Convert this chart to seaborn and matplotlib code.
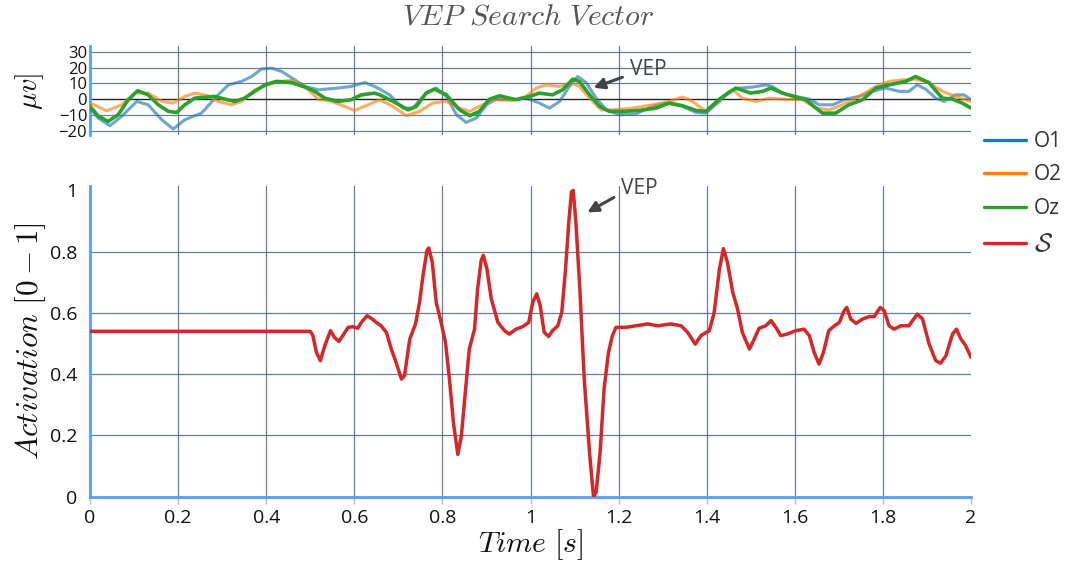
import matplotlib
matplotlib.use("Agg")
import matplotlib.pyplot as plt
import seaborn as sns
from matplotlib.lines import Line2D

sns.set_theme(style="white")
plt.rcParams["font.family"] = ["Open Sans", "DejaVu Sans"]
plt.rcParams["mathtext.fontset"] = "cm"
plt.rcParams["axes.unicode_minus"] = True

# ---- EEG channels (microvolts) ----
o1_t = [0.000, 0.019, 0.045, 0.072, 0.106, 0.132, 0.163, 0.189, 0.215, 0.253, 0.291, 0.314,
        0.344, 0.367, 0.389, 0.412, 0.435, 0.465, 0.488, 0.518, 0.563, 0.593, 0.624, 0.646,
        0.658, 0.680, 0.710, 0.733, 0.763, 0.786, 0.809, 0.832, 0.854, 0.877, 0.900, 0.922,
        0.960, 0.990, 1.020, 1.043, 1.066, 1.088, 1.107, 1.126, 1.149, 1.172, 1.202, 1.240,
        1.277, 1.308, 1.345, 1.376, 1.398, 1.429, 1.451, 1.474, 1.504, 1.534, 1.549, 1.572,
        1.602, 1.633, 1.655, 1.686, 1.716, 1.746, 1.776, 1.806, 1.837, 1.859, 1.878, 1.897,
        1.920, 1.939, 1.965, 1.984, 2.000]
o1_v = [-5.7, -12.0, -16.9, -10.9, -1.5, -3.6, -13.1, -19.0, -13.1, -8.9, 2.7, 9.0,
        11.2, 14.3, 19.0, 19.6, 17.5, 12.2, 8.0, 5.9, 7.0, 8.0, 10.5, 8.0,
        6.3, 2.7, -5.7, -5.7, 3.8, 7.0, 1.7, -9.9, -14.8, -12.0, -3.6, 0.0,
        -0.4, 0.6, -2.5, -5.7, -1.5, 8.0, 14.3, 10.5, 0.6, -6.8, -9.9, -9.3,
        -4.6, -2.5, -4.6, -8.5, -8.9, -1.5, 4.9, 7.0, 7.6, 9.0, 8.0, 3.8,
        1.7, 0.0, -3.6, -3.6, 0.0, 1.7, 4.9, 7.0, 4.9, 4.9, 9.0, 6.3,
        0.6, -1.5, 2.7, 2.7, -0.4]

o2_t = [0.000, 0.038, 0.072, 0.102, 0.132, 0.163, 0.189, 0.215, 0.238, 0.268, 0.291, 0.321,
        0.344, 0.374, 0.404, 0.427, 0.457, 0.488, 0.518, 0.548, 0.578, 0.601, 0.631, 0.658,
        0.688, 0.718, 0.748, 0.778, 0.809, 0.839, 0.862, 0.884, 0.915, 0.960, 0.990, 1.013,
        1.035, 1.066, 1.092, 1.111, 1.134, 1.160, 1.187, 1.232, 1.277, 1.315, 1.345, 1.368,
        1.398, 1.429, 1.459, 1.481, 1.512, 1.542, 1.572, 1.617, 1.648, 1.678, 1.708, 1.746,
        1.784, 1.814, 1.844, 1.874, 1.904, 1.935, 1.965, 2.000]
o2_v = [-2.5, -7.4, -3.6, 3.8, 3.8, -1.5, -2.5, 1.7, 3.8, 2.1, -1.5, -3.6,
        -1.5, 5.9, 9.0, 11.2, 11.8, 8.0, 0.0, -1.5, -4.6, -7.2, -3.6, -0.4,
        -4.6, -10.5, -7.8, -2.5, -1.5, -5.7, -7.8, -4.6, -0.4, -0.8, 1.7, 7.0,
        9.0, 8.0, 10.1, 8.0, 0.6, -6.8, -6.8, -5.7, -3.6, -1.5, 1.3, -1.5,
        -7.8, -0.4, 5.9, 0.6, -1.5, 0.6, 0.0, -0.4, -5.7, -6.8, -3.6, 1.7,
        8.0, 11.2, 12.2, 12.6, 10.5, 4.9, 1.7, -1.5]

oz_t = [0.000, 0.019, 0.041, 0.064, 0.087, 0.108, 0.132, 0.155, 0.178, 0.197, 0.215, 0.238,
        0.268, 0.283, 0.306, 0.329, 0.351, 0.374, 0.397, 0.423, 0.457, 0.488, 0.510, 0.533,
        0.563, 0.593, 0.616, 0.646, 0.658, 0.688, 0.722, 0.741, 0.763, 0.782, 0.809, 0.839,
        0.862, 0.884, 0.907, 0.930, 0.967, 0.998, 1.020, 1.050, 1.073, 1.096, 1.111, 1.134,
        1.157, 1.179, 1.209, 1.247, 1.285, 1.315, 1.345, 1.376, 1.398, 1.429, 1.466, 1.500,
        1.527, 1.546, 1.572, 1.602, 1.625, 1.648, 1.663, 1.693, 1.723, 1.754, 1.784, 1.814,
        1.852, 1.874, 1.904, 1.935, 1.957, 1.980, 2.000]
oz_v = [-4.6, -10.9, -14.1, -9.9, -0.4, 5.3, 2.7, -3.6, -7.8, -8.5, -3.6, 0.6,
        1.3, 1.7, 0.0, -1.5, 0.6, 4.9, 9.0, 11.2, 10.5, 7.6, 4.9, 0.6,
        -1.5, -0.4, 2.7, 3.8, 2.7, -1.5, -6.8, -4.6, 3.8, 6.3, 2.7, -6.8,
        -10.5, -7.8, 0.0, 2.1, -0.4, 1.7, 3.8, 2.7, 5.9, 12.6, 11.2, 2.7,
        -4.6, -7.8, -7.8, -7.2, -5.7, -2.5, -4.2, -7.2, -7.8, 0.0, 7.0, 3.8,
        4.9, 7.0, 3.8, 1.3, -0.4, -5.7, -8.9, -8.9, -3.6, -0.4, 7.0, 9.0,
        11.2, 14.3, 10.5, 0.6, 0.0, -2.5, -5.7]

# ---- search vector activation S ----
s_t = [0.000, 0.500, 0.506, 0.514, 0.523, 0.533, 0.546, 0.555, 0.565, 0.574, 0.586, 0.597,
       0.608, 0.616, 0.629, 0.639, 0.650, 0.661, 0.673, 0.684, 0.695, 0.707, 0.714, 0.726,
       0.739, 0.748, 0.756, 0.765, 0.769, 0.777, 0.786, 0.797, 0.807, 0.816, 0.825, 0.835,
       0.843, 0.852, 0.861, 0.873, 0.880, 0.888, 0.893, 0.901, 0.911, 0.926, 0.941, 0.952,
       0.967, 0.982, 0.996, 1.005, 1.014, 1.022, 1.031, 1.041, 1.050, 1.062, 1.071, 1.079,
       1.087, 1.093, 1.097, 1.103, 1.112, 1.122, 1.134, 1.143, 1.149, 1.158, 1.167, 1.177,
       1.186, 1.194, 1.217, 1.240, 1.266, 1.289, 1.319, 1.342, 1.357, 1.374, 1.387, 1.406,
       1.417, 1.429, 1.438, 1.447, 1.459, 1.470, 1.481, 1.497, 1.508, 1.519, 1.534, 1.546,
       1.557, 1.568, 1.583, 1.602, 1.621, 1.633, 1.644, 1.655, 1.665, 1.677, 1.690, 1.701,
       1.712, 1.718, 1.727, 1.739, 1.754, 1.769, 1.780, 1.794, 1.803, 1.814, 1.825, 1.841,
       1.859, 1.878, 1.890, 1.905, 1.920, 1.931, 1.943, 1.958, 1.967, 1.977, 1.988, 2.000]
s_v = [0.540, 0.540, 0.526, 0.471, 0.444, 0.493, 0.542, 0.520, 0.507, 0.526, 0.553, 0.555,
       0.550, 0.569, 0.591, 0.582, 0.569, 0.558, 0.536, 0.482, 0.438, 0.384, 0.395, 0.515,
       0.564, 0.634, 0.722, 0.804, 0.812, 0.766, 0.634, 0.569, 0.504, 0.384, 0.242, 0.138,
       0.198, 0.340, 0.482, 0.547, 0.679, 0.771, 0.788, 0.744, 0.646, 0.569, 0.542, 0.531,
       0.547, 0.555, 0.569, 0.634, 0.662, 0.624, 0.537, 0.523, 0.542, 0.558, 0.602, 0.733,
       0.897, 0.995, 1.000, 0.897, 0.679, 0.384, 0.144, 0.000, 0.015, 0.144, 0.351, 0.471,
       0.526, 0.553, 0.553, 0.558, 0.564, 0.558, 0.564, 0.558, 0.536, 0.498, 0.526, 0.542,
       0.602, 0.744, 0.810, 0.766, 0.668, 0.613, 0.536, 0.482, 0.515, 0.550, 0.558, 0.575,
       0.553, 0.526, 0.531, 0.542, 0.547, 0.526, 0.471, 0.433, 0.471, 0.542, 0.558, 0.569,
       0.607, 0.618, 0.580, 0.566, 0.580, 0.588, 0.588, 0.618, 0.607, 0.558, 0.547, 0.558,
       0.558, 0.596, 0.580, 0.498, 0.444, 0.436, 0.460, 0.531, 0.547, 0.515, 0.493, 0.455]

series_labels = ["O1", "O2", "Oz", r"$\mathcal{S}$"]
x_ticks = [0, 0.2, 0.4, 0.6, 0.8, 1.0, 1.2, 1.4, 1.6, 1.8, 2.0]
x_tick_labels = ["0", "0.2", "0.4", "0.6", "0.8", "1", "1.2", "1.4", "1.6", "1.8", "2"]
uv_ticks = [-20, -10, 0, 10, 20, 30]
act_ticks = [0, 0.2, 0.4, 0.6, 0.8, 1.0]
act_tick_labels = ["0", "0.2", "0.4", "0.6", "0.8", "1"]

BLUE, ORANGE, GREEN, RED = "#1f77b4", "#ff7f0e", "#2ca02c", "#d62728"
GRID = "#506784"
SPINE = "#5b9cf0"
TEXT = "#444444"
TICK_FS = 14

W, H = 1072, 563
fig = plt.figure(figsize=(W / 100, H / 100), dpi=100)
ax_top = fig.add_axes([90 / W, 1 - 135.4 / H, 881 / W, 89.2 / H])
ax_bot = fig.add_axes([90 / W, 1 - 496.7 / H, 881 / W, 310.9 / H])

# ---- upper panel: raw channels ----
for t, v, c, a, lw in [(o1_t, o1_v, BLUE, 0.65, 2.2),
                       (o2_t, o2_v, ORANGE, 0.65, 2.2),
                       (oz_t, oz_v, GREEN, 1.0, 2.6)]:
    sns.lineplot(x=t, y=v, ax=ax_top, color=c, alpha=a, lw=lw, sort=False,
                 estimator=None, solid_joinstyle="round", zorder=3)

ax_top.set_xlim(0, 2)
ax_top.set_ylim(-23, 33.5)
for gx in x_ticks[1:-1]:
    ax_top.axvline(gx, color=GRID, lw=0.9, alpha=0.85, zorder=1)
for gy in uv_ticks:
    if gy != 0:
        ax_top.axhline(gy, color=GRID, lw=0.9, alpha=0.85, zorder=1)
ax_top.axhline(0, color="#222222", lw=1.0, zorder=2)
ax_top.set_yticks(uv_ticks)
ax_top.set_yticklabels([str(v).replace("-", "\u2212") for v in uv_ticks])
ax_top.set_xticks([])
ax_top.tick_params(axis="y", length=0, pad=2, labelsize=12, labelcolor="#111111")
for side in ["top", "right", "bottom"]:
    ax_top.spines[side].set_visible(False)
ax_top.spines["left"].set_color(SPINE)
ax_top.spines["left"].set_linewidth(2.0)
ax_top.set_ylabel(r"$\mu v]$", fontsize=20.5, color="#111111", va="center")
ax_top.yaxis.set_label_coords(-0.068, 0.5)

ax_top.annotate("VEP", xy=(1.143, 7.2), xytext=(1.225, 18.8),
                fontsize=15, color=TEXT, ha="left", va="center",
                annotation_clip=False,
                arrowprops=dict(arrowstyle="-|>", color=TEXT, lw=2.2,
                                mutation_scale=16, shrinkA=3, shrinkB=0,
                                relpos=(0.0, 0.25)))

# ---- lower panel: activation ----
sns.lineplot(x=s_t, y=s_v, ax=ax_bot, color=RED, lw=2.5, sort=False,
             estimator=None, solid_joinstyle="round", zorder=3)
ax_bot.set_xlim(0, 2)
ax_bot.set_ylim(0, 1.015)
for gx in x_ticks[1:-1]:
    ax_bot.axvline(gx, color=GRID, lw=0.9, alpha=0.85, zorder=1)
for gy in act_ticks[1:-1]:
    ax_bot.axhline(gy, color=GRID, lw=0.9, alpha=0.85, zorder=1)
ax_bot.set_xticks(x_ticks)
ax_bot.set_xticklabels(x_tick_labels)
ax_bot.set_yticks(act_ticks)
ax_bot.set_yticklabels(act_tick_labels)
ax_bot.tick_params(axis="x", length=5, width=1, color="#bbbbbb", direction="out",
                   pad=4, labelsize=TICK_FS, labelcolor="#111111", bottom=True)
ax_bot.tick_params(axis="y", length=0, pad=9, labelsize=TICK_FS, labelcolor="#111111")
for side in ["top", "right"]:
    ax_bot.spines[side].set_visible(False)
for side in ["left", "bottom"]:
    ax_bot.spines[side].set_color(SPINE)
    ax_bot.spines[side].set_linewidth(2.0)
ax_bot.set_ylabel(r"$Activation\ [0-1]$", fontsize=22.5, color="#111111", va="center")
ax_bot.yaxis.set_label_coords(-0.068, 0.5)
ax_bot.set_xlabel(r"$Time\ [s]$", fontsize=21.5, color="#111111", va="center")
ax_bot.xaxis.set_label_coords(0.5, -0.155)

ax_bot.annotate("VEP", xy=(1.129, 0.928), xytext=(1.205, 1.007),
                fontsize=15, color=TEXT, ha="left", va="center",
                annotation_clip=False,
                arrowprops=dict(arrowstyle="-|>", color=TEXT, lw=2.2,
                                mutation_scale=16, shrinkA=3, shrinkB=0,
                                relpos=(0.0, 0.25)))

# ---- title and legend ----
fig.text(528 / W, 1 - 17 / H, r"$VEP\ Search\ Vector$", ha="center", va="center",
         fontsize=21.5, color="#555555")

handles = [Line2D([], [], color=BLUE, lw=2.4),
           Line2D([], [], color=ORANGE, lw=2.4),
           Line2D([], [], color=GREEN, lw=2.4),
           Line2D([], [], color=RED, lw=2.4)]
leg = fig.legend(handles, series_labels, loc="upper left",
                 bbox_to_anchor=(984 / W, 1 - 131 / H), frameon=False,
                 fontsize=15, handlelength=2.0, handletextpad=0.4,
                 labelspacing=0.6, borderpad=0, borderaxespad=0)
for txt in leg.get_texts():
    txt.set_color("#333333")
leg.get_texts()[3].set_fontsize(19)

fig.savefig("out.png", dpi=100)
